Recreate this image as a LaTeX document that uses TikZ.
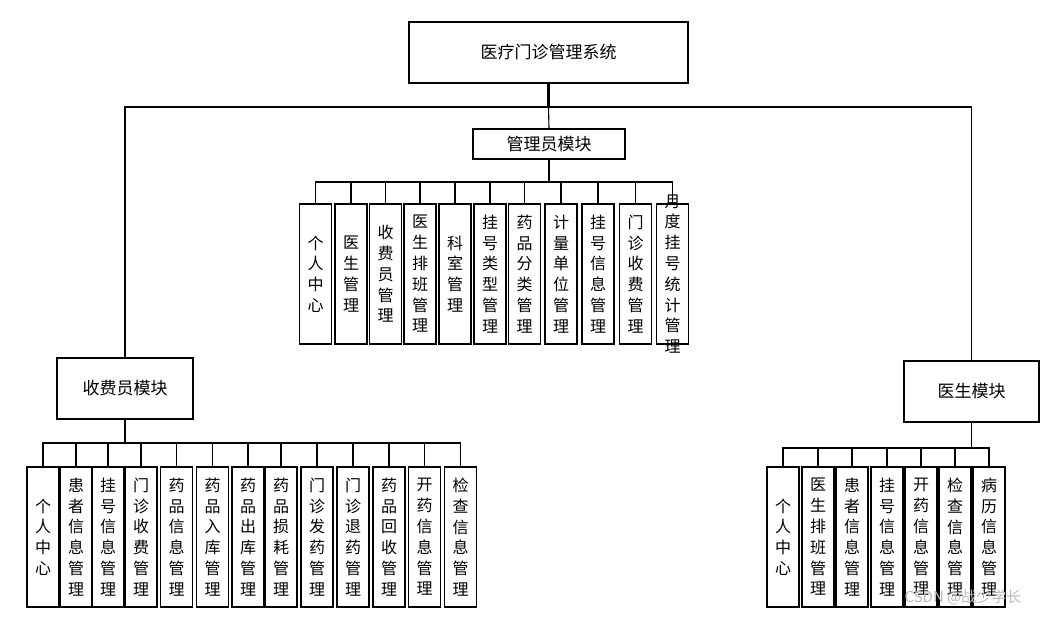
\documentclass[tikz,border=0pt]{standalone}
\usepackage{fontspec}
\setmainfont{Noto Sans CJK SC}
\usetikzlibrary{positioning}

\begin{document}
\begin{tikzpicture}[x=1pt, y=-1pt,
    box/.style={draw, line width=1.5pt, fill=white, inner sep=0pt, align=center},
    topbox/.style={box, minimum width=279pt, minimum height=61pt,
                   font=\fontsize{17}{20}\selectfont},
    modbox/.style={box, minimum height=61pt, font=\fontsize{17}{20}\selectfont},
    leaftext/.style={inner sep=0pt, align=center, font=\fontsize{16}{20.8}\selectfont},
    leaf/.style={box, minimum width=32pt, minimum height=140pt,
                 label={[leaftext]center:#1}},
    link/.style={line width=1.1pt},
    trunk/.style={line width=2.2pt}
  ]
  \useasboundingbox (0,0) rectangle (1047,617);

  % top and module boxes
  \node[topbox]                                  (root)  at (548.5, 52.5) {医疗门诊管理系统};
  \node[box, minimum width=152pt, minimum height=30pt,
        font=\fontsize{17}{20}\selectfont]       (admin) at (549, 144)    {管理员模块};
  \node[modbox, minimum width=136pt]             (cash)  at (125, 388.5)  {收费员模块};
  \node[modbox, minimum width=135pt]             (doc)   at (971.5, 391.5){医生模块};

  \coordinate (rbar) at (548.5, 107);
  \coordinate (abar) at (549, 182);
  \coordinate (cbar) at (125, 443);
  \coordinate (dbar) at (971.5, 448);

  \draw[trunk] (root.south) -- (rbar);
  \draw[link]  (rbar) -- (admin.north);
  \draw[link]  (cash.north) |- (rbar) -| (doc.north);

  \draw[link]  (admin.south) -- (abar);
  \draw[trunk] (cash.south)  -- (cbar);
  \draw[link]  (doc.south)   -- (dbar);

  % admin leaves
  \foreach \x/\t [count=\i] in {315.5/{个\\人\\中\\心}, 351/{医\\生\\管\\理},
      385.5/{收\\费\\员\\管\\理}, 420/{医\\生\\排\\班\\管\\理}, 455/{科\\室\\管\\理},
      490/{挂\\号\\类\\型\\管\\理}, 524.5/{药\\品\\分\\类\\管\\理},
      561/{计\\量\\单\\位\\管\\理}, 598/{挂\\号\\信\\息\\管\\理},
      635.5/{门\\诊\\收\\费\\管\\理}, 672.5/{月\\度\\挂\\号\\统\\计\\管\\理}}{
    \node[leaf=\t] (a\i) at (\x, 274) {};
    \draw[link] (abar) -| (a\i.north);
  }

  % cashier leaves
  \foreach \x/\t [count=\i] in {43/{个\\人\\中\\心}, 76/{患\\者\\信\\息\\管\\理},
      108/{挂\\号\\信\\息\\管\\理}, 141/{门\\诊\\收\\费\\管\\理},
      176.5/{药\\品\\信\\息\\管\\理}, 212.5/{药\\品\\入\\库\\管\\理},
      248/{药\\品\\出\\库\\管\\理}, 281/{药\\品\\损\\耗\\管\\理},
      317/{门\\诊\\发\\药\\管\\理}, 353/{门\\诊\\退\\药\\管\\理},
      389/{药\\品\\回\\收\\管\\理}, 424.5/{开\\药\\信\\息\\管\\理},
      460.5/{检\\查\\信\\息\\管\\理}}{
    \node[leaf=\t] (c\i) at (\x, 537) {};
    \draw[link] (cbar) -| (c\i.north);
  }

  % doctor leaves
  \foreach \x/\t [count=\i] in {783/{个\\人\\中\\心}, 818/{医\\生\\排\\班\\管\\理},
      852/{患\\者\\信\\息\\管\\理}, 887/{挂\\号\\信\\息\\管\\理},
      921/{开\\药\\信\\息\\管\\理}, 955/{检\\查\\信\\息\\管\\理},
      989/{病\\历\\信\\息\\管\\理}}{
    \node[leaf=\t] (d\i) at (\x, 537) {};
    \draw[link] (dbar) -| (d\i.north);
  }

  \node[text=gray!55, font=\fontsize{15}{18}\selectfont] (mark) at (963, 597) {CSDN @战少学长};
\end{tikzpicture}
\end{document}
